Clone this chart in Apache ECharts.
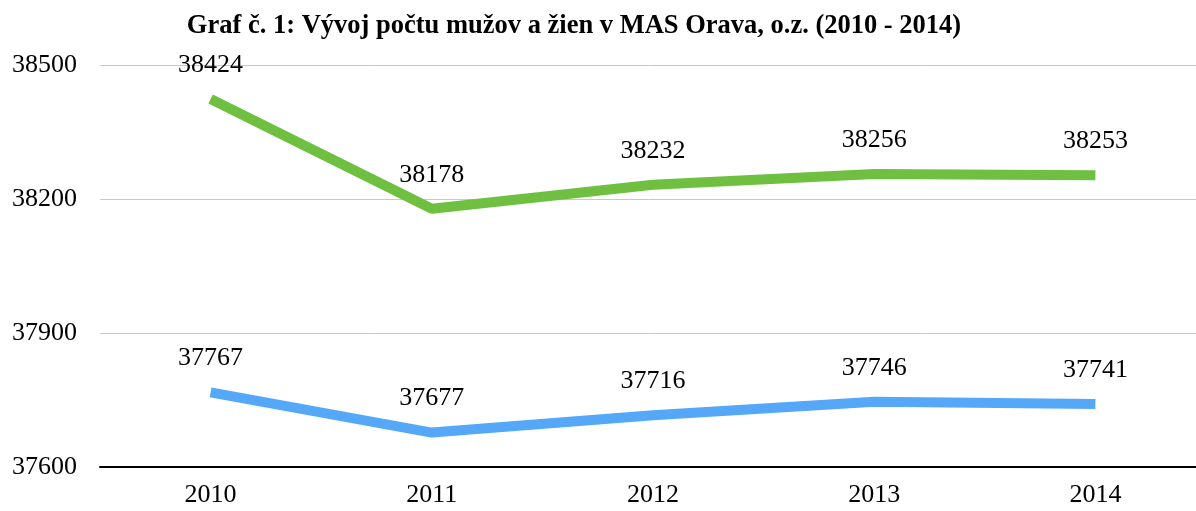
<!DOCTYPE html>
<html lang="sk">
<head>
<meta charset="utf-8">
<title>Graf č. 1</title>
<script src="https://cdn.jsdelivr.net/npm/echarts@6/dist/echarts.min.js"></script>
<style>
  html, body { margin: 0; padding: 0; background: #fff; }
  #main { width: 1196px; height: 511px; }
</style>
</head>
<body>
<div id="main"></div>
<script>
// roky
const years = ['2010', '2011', '2012', '2013', '2014'];
// zelená čiara (vyššia)
const zeny = [38424, 38178, 38232, 38256, 38253];
// modrá čiara (nižšia)
const muzi = [37767, 37677, 37716, 37746, 37741];

const serif = '"Liberation Serif", "Times New Roman", serif';

const chart = echarts.init(document.getElementById('main'));

function lineSeries(name, data, color) {
  return {
    name: name,
    type: 'line',
    data: data,
    symbol: 'circle',
    symbolSize: 2,
    showSymbol: true,
    itemStyle: { color: 'rgba(0,0,0,0)', borderWidth: 0 },
    lineStyle: { color: color, width: 10, cap: 'butt' },
    label: {
      show: true, position: 'top', distance: 20,
      fontFamily: serif, fontSize: 26, color: '#000'
    }
  };
}

const option = {
  animation: false,
  title: {
    text: 'Graf č. 1: Vývoj počtu mužov a žien v MAS Orava, o.z. (2010 - 2014)',
    left: 569,
    textAlign: 'center',
    top: 8,
    textStyle: { fontFamily: serif, fontSize: 26.5, fontWeight: 'bold', color: '#000' }
  },
  grid: { left: 100, width: 1106, top: 65, height: 402, outerBoundsMode: 'none' },
  xAxis: {
    type: 'category',
    data: years,
    boundaryGap: true,
    axisLine: { lineStyle: { color: '#000', width: 2 } },
    axisTick: { show: false },
    axisLabel: { fontFamily: serif, fontSize: 26, color: '#000', margin: 15 }
  },
  yAxis: {
    type: 'value',
    min: 37600,
    max: 38500,
    interval: 300,
    axisLine: { show: false },
    axisTick: { show: false },
    splitLine: { lineStyle: { color: '#c8c8c8', width: 1 } },
    axisLabel: {
      fontFamily: serif, fontSize: 26, color: '#000', margin: 23,
      formatter: v => String(v)
    }
  },
  series: [
    lineSeries('ženy', zeny, '#6FBF40'),
    lineSeries('muži', muzi, '#55A8F8')
  ]
};

chart.setOption(option);
</script>
</body>
</html>
